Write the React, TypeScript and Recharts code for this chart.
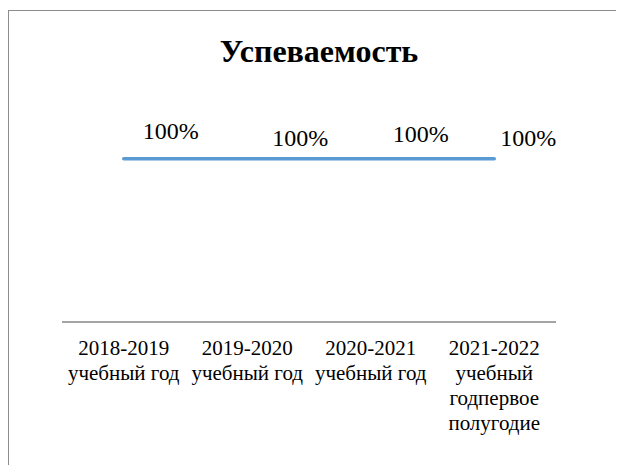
import React from "react";
import { LineChart, Line, XAxis, YAxis, LabelList } from "recharts";

const categories = [
  "2018-2019\nучебный год",
  "2019-2020\nучебный год",
  "2020-2021\nучебный год",
  "2021-2022\nучебный\nгодпервое\nполугодие",
];
const successRate = [1, 1, 1, 1];

// label nudges relative to each point, as in the original
const labelOffsets = [
  { dx: 47, dy: -20 },
  { dx: 53, dy: -13 },
  { dx: 50, dy: -17 },
  { dx: 34, dy: -13 },
];

const data = categories.map((name, i) => ({ name, value: successRate[i] }));

const FONT = "Liberation Serif";

const CategoryTick = (props: any) => {
  const { x, y, payload } = props;
  const lines = String(payload.value).split("\n");
  return (
    <text x={x} y={y} textAnchor="middle" fill="#000" style={{ fontFamily: FONT, fontSize: 21 }}>
      {lines.map((l, i) => (
        <tspan key={i} x={x} dy={25}>
          {l}
        </tspan>
      ))}
    </text>
  );
};

const ValueLabel = (props: any) => {
  const { x, y, value, index } = props;
  const off = labelOffsets[index] || { dx: 0, dy: 0 };
  return (
    <text
      x={x + off.dx}
      y={y + off.dy}
      textAnchor="middle"
      fill="#000"
      style={{ fontFamily: FONT, fontSize: 24 }}
    >
      {Math.round(value * 100) + "%"}
    </text>
  );
};

export default function App() {
  return (
    <div style={{ width: 616, height: 457, overflow: "hidden" }}>
      <style>{"html, body { overflow: hidden; }"}</style>
      <div
        style={{
          position: "relative",
          top: 2,
          width: 660,
          height: 480,
          border: "1px solid #8c8c8c",
        }}
      >
        <LineChart
          width={620}
          height={460}
          data={data}
          margin={{ top: 115, right: 73, bottom: 29, left: 53 }}
        >
          <text
            x={310}
            y={51}
            textAnchor="middle"
            fill="#000"
            style={{ fontFamily: FONT, fontSize: 32, fontWeight: "bold" }}
          >
            Успеваемость
          </text>
          <XAxis
            dataKey="name"
            scale="band"
            interval={0}
            tickLine={false}
            axisLine={{ stroke: "#868686", strokeWidth: 1.3 }}
            height={120}
            tick={<CategoryTick />}
          />
          <YAxis hide domain={[0, 1.2]} />
          <Line
            dataKey="value"
            stroke="#5b9bd5"
            strokeWidth={3.5}
            strokeLinecap="round"
            dot={false}
            isAnimationActive={false}
          >
            <LabelList dataKey="value" content={<ValueLabel />} />
          </Line>
        </LineChart>
      </div>
    </div>
  );
}
